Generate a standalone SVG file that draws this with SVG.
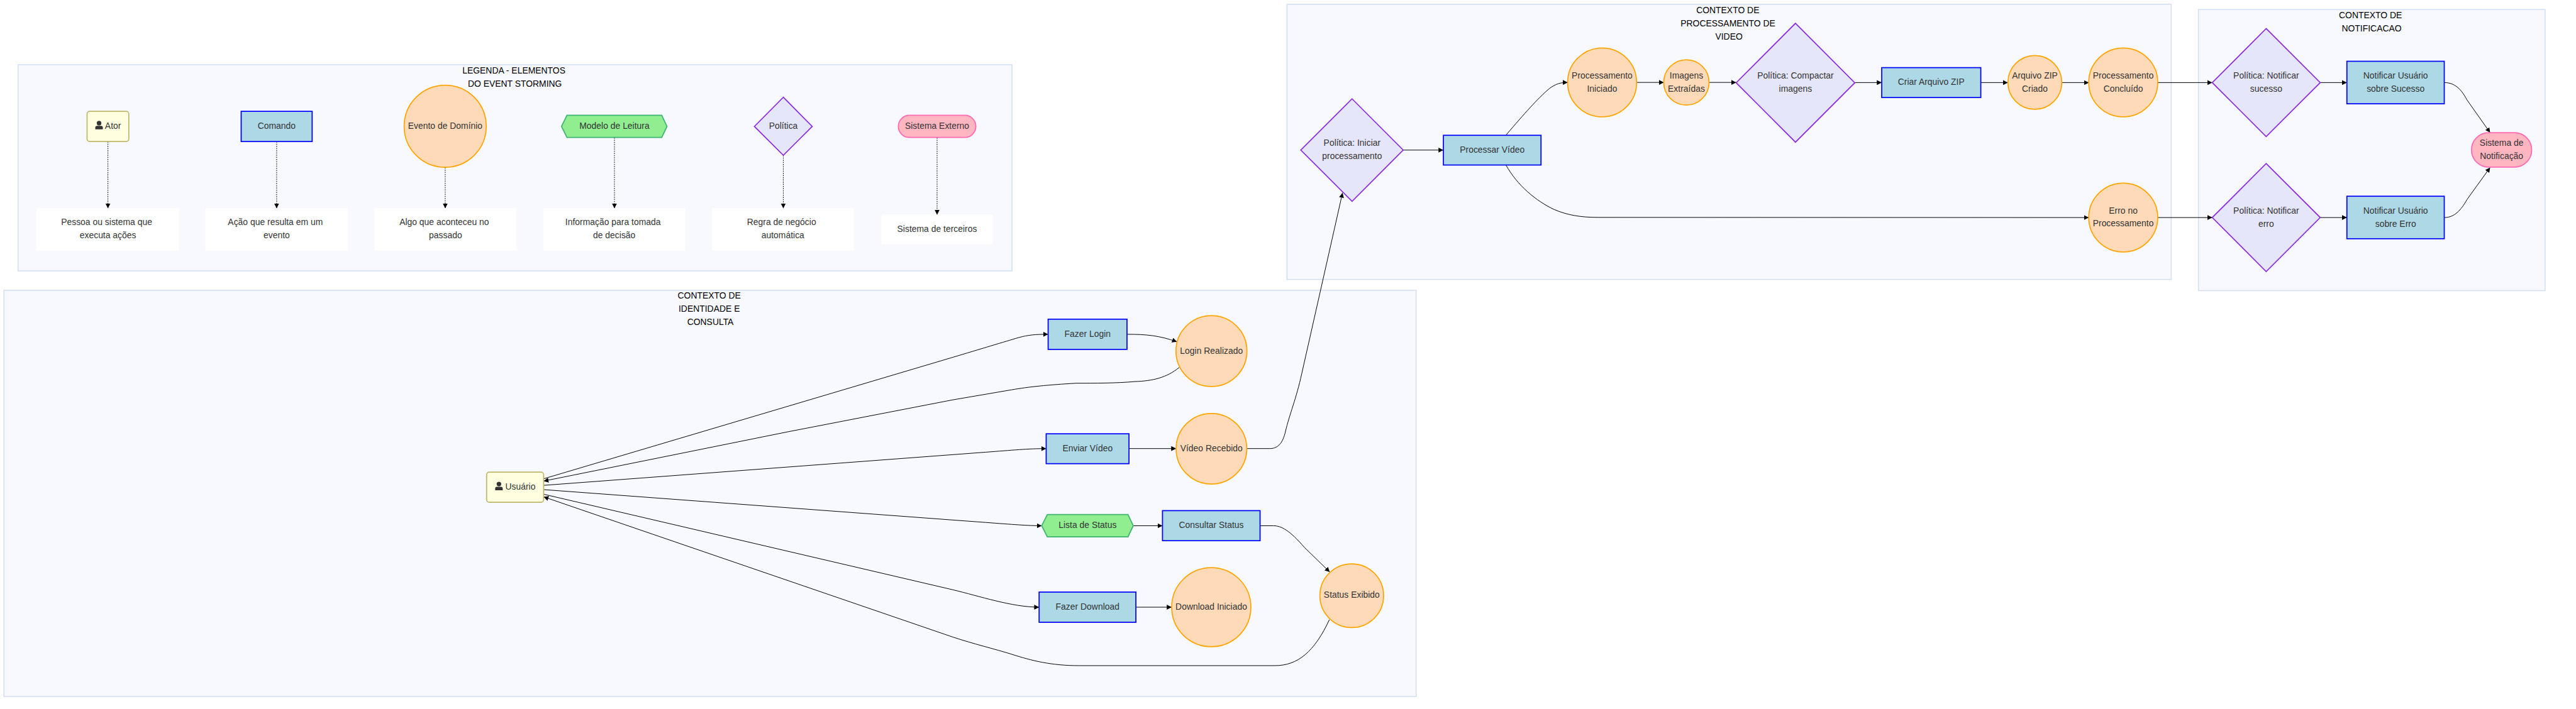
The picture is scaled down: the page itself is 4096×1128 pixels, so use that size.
<svg xmlns="http://www.w3.org/2000/svg" width="4096" height="1128" viewBox="0 0 4096 1128">
<style>
text{font-family:"Liberation Sans",Arial,sans-serif;font-size:26.67px;fill:#333;text-anchor:middle}
.title text,text.title{fill:#000}
.cl{fill:#f8f9ff;stroke:#d3e0f3;stroke-width:3}
.ac{fill:#ffffe0;stroke:#bdb76b;stroke-width:3.33}
.cm{fill:#add8e6;stroke:#00f;stroke-width:3.33}
.ev{fill:#ffdab9;stroke:#ffa500;stroke-width:3.33}
.rm{fill:#90ee90;stroke:#3cb371;stroke-width:3.33}
.po{fill:#e6e6fa;stroke:#8a2be2;stroke-width:3.33}
.ex{fill:#ffb6c1;stroke:#ff69b4;stroke-width:3.33}
.de{fill:#fff;stroke:#fff;stroke-width:1}
.ic{fill:#333}
.e{fill:none;stroke:#000;stroke-width:1.9;marker-end:url(#ah)}
.d{fill:none;stroke:#000;stroke-width:1.9;stroke-dasharray:3.33 3.33;marker-end:url(#ah)}
</style>
<defs>
<marker id="ah" viewBox="0 0 10 10" refX="10" refY="5" markerUnits="userSpaceOnUse" markerWidth="15" markerHeight="15" orient="auto"><path d="M0,0L10,5L0,10z" fill="#000"/></marker>
<path id="usr" class="ic" d="M11.5,0a7,7 0 0 1 0,14a7,7 0 0 1 0,-14zM5,15.5h13a5,5 0 0 1 5,5V26H0v-5.500a5,5 0 0 1 5,-5z"/>
</defs>
<g transform="scale(0.52245)">
<g id="clusters">
<g id="c-legenda"><rect class="cl" x="55" y="197" width="3025" height="628"/><text class="title" x="1564" y="224">LEGENDA - ELEMENTOS</text><text class="title" x="1567" y="265">DO EVENT STORMING</text></g>
<g id="c-identidade"><rect class="cl" x="12" y="884" width="4298" height="1237"/><text class="title" x="2158.500" y="910">CONTEXTO DE</text><text class="title" x="2158.500" y="950">IDENTIDADE E</text><text class="title" x="2162" y="990">CONSULTA</text></g>
<g id="c-processamento"><rect class="cl" x="3917" y="13" width="2691" height="838"/><text class="title" x="5258.500" y="40">CONTEXTO DE</text><text class="title" x="5259" y="80">PROCESSAMENTO DE</text><text class="title" x="5262" y="120">VIDEO</text></g>
<g id="c-notificacao"><rect class="cl" x="6691" y="29" width="1055" height="856"/><text class="title" x="7214.500" y="56">CONTEXTO DE</text><text class="title" x="7218" y="96">NOTIFICACAO</text></g>
</g>
<g id="connectors">
<path class="d" d="M328.500,431V634.500"/>
<path class="d" d="M842,431V634.500"/>
<path class="d" d="M1355,510V634.500"/>
<path class="d" d="M1870,419V634.500"/>
<path class="d" d="M2384,473V634.500"/>
<path class="d" d="M2852,419V654"/>
<path class="e" d="M1654.500,1458L2900,1088C2980,1064 3060,1040 3100,1028C3130,1020 3150,1018 3190,1018"/>
<path class="e" d="M3430,1018C3490,1018 3530,1022 3582,1041"/>
<path class="e" d="M3589,1119C3550,1150 3510,1160 3453,1162C3400,1167 3330,1167 3275,1167C3190,1172 3130,1178 3079,1187L2900,1217.600L2400,1314.500L1654.500,1465"/>
<path class="e" d="M1654.500,1478L3000,1377C3080,1371 3130,1366 3184,1366"/>
<path class="e" d="M3436,1366H3579.500"/>
<path class="e" d="M3794.500,1366L3865,1366C3892,1366 3905,1345 3912,1315C3925,1260 3945,1215 3962,1137L4086,587"/>
<path class="e" d="M1654.500,1491L3000,1591C3080,1597 3130,1601 3170.500,1601"/>
<path class="e" d="M3449,1601H3538"/>
<path class="e" d="M3835,1601L3875,1601C3900,1601 3925,1615 3971,1668L4047,1742"/>
<path class="e" d="M1654.500,1505L2900,1796C2980,1815 3080,1849 3162.500,1849"/>
<path class="e" d="M3457,1849H3566"/>
<path class="e" d="M4046,1887C4000,1985 3950,2027 3880,2027L3284,2027C3200,2027 3140,2012 3078,1992C3030,1977 2960,1960 2900,1940L1654.500,1513"/>
<path class="e" d="M4270.500,457H4393"/>
<path class="e" d="M4583,412C4640,345 4680,300 4715,270C4735,255 4750,251 4771.500,251"/>
<path class="e" d="M4583,502C4618,565 4675,612 4730,638C4770,655 4810,662 4864,662L6357.500,662.500"/>
<path class="e" d="M4981,251H5064"/>
<path class="e" d="M5201,251H5284"/>
<path class="e" d="M5645,251.500H5727"/>
<path class="e" d="M6028.500,251.500H6111"/>
<path class="e" d="M6275,251.500H6357.500"/>
<path class="e" d="M6566,251.500H6733"/>
<path class="e" d="M6566,662.500H6733"/>
<path class="e" d="M7061.500,251.500H7142.700"/>
<path class="e" d="M7061.500,662.500H7142.700"/>
<path class="e" d="M7439,251.500C7470,251.500 7490,270 7508,304L7578.600,404"/>
<path class="e" d="M7439,662.500C7470,662.500 7490,640 7508,608L7578.600,510"/>
</g>
<g id="n-ator"><rect class="ac" x="265" y="339" width="127" height="92" rx="8"/><use href="#usr" x="290" y="368"/><text style="text-anchor:start" x="319.400" y="392">Ator</text></g>
<g id="n-comando"><rect class="cm" x="734" y="339" width="216" height="92"/><text x="842" y="392">Comando</text></g>
<g id="n-evento"><circle class="ev" cx="1355" cy="384.500" r="125"/><text x="1355" y="392">Evento de Domínio</text></g>
<g id="n-modelo"><polygon class="rm" points="1709,385 1725.500,351 2014,351 2030,385 2014,418.600 1725.500,418.600"/><text x="1870" y="392">Modelo de Leitura</text></g>
<g id="n-politica"><polygon class="po" points="2384,296 2472,385 2384,473 2296,385"/><text x="2384" y="392">Política</text></g>
<g id="n-externo"><rect class="ex" x="2734" y="351" width="236" height="67.600" rx="33.800"/><text x="2852" y="392">Sistema Externo</text></g>
<g id="d-ator"><rect class="de" x="112" y="634.500" width="432" height="128.500"/><text x="324.500" y="686">Pessoa ou sistema que</text><text x="328.500" y="725">executa ações</text></g>
<g id="d-comando"><rect class="de" x="625.500" y="634.500" width="432" height="128.500"/><text x="838" y="686">Ação que resulta em um</text><text x="842" y="725">evento</text></g>
<g id="d-evento"><rect class="de" x="1140" y="634.500" width="431" height="128.500"/><text x="1352" y="686">Algo que aconteceu no</text><text x="1356" y="725">passado</text></g>
<g id="d-modelo"><rect class="de" x="1654" y="634.500" width="431" height="128.500"/><text x="1865.500" y="686">Informação para tomada</text><text x="1869.400" y="725">de decisão</text></g>
<g id="d-politica"><rect class="de" x="2168" y="634.500" width="430" height="128.500"/><text x="2378.600" y="686">Regra de negócio</text><text x="2382.600" y="725">automática</text></g>
<g id="d-externo"><rect class="de" x="2682" y="654" width="340" height="89"/><text x="2852" y="706">Sistema de terceiros</text></g>
<g id="n-usuario"><rect class="ac" x="1481" y="1437.700" width="173.500" height="92" rx="8"/><use href="#usr" x="1507" y="1467"/><text style="text-anchor:start" x="1537.800" y="1491">Usuário</text></g>
<g id="n-fazer-login"><rect class="cm" x="3190" y="972" width="240" height="92"/><text x="3310" y="1026">Fazer Login</text></g>
<g id="n-login-realizado"><circle class="ev" cx="3687" cy="1069" r="108"/><text x="3687" y="1077">Login Realizado</text></g>
<g id="n-enviar-video"><rect class="cm" x="3184" y="1321" width="252" height="91"/><text x="3310" y="1374">Enviar Vídeo</text></g>
<g id="n-video-recebido"><circle class="ev" cx="3687" cy="1366.500" r="107.500"/><text x="3687" y="1374">Vídeo Recebido</text></g>
<g id="n-lista-status"><polygon class="rm" points="3170.500,1601 3187.500,1567 3433,1567 3449,1601 3433,1634.700 3187.500,1634.700"/><text x="3310" y="1608">Lista de Status</text></g>
<g id="n-consultar-status"><rect class="cm" x="3538" y="1555" width="297" height="91.500"/><text x="3686.500" y="1608">Consultar Status</text></g>
<g id="n-status-exibido"><circle class="ev" cx="4114" cy="1814" r="97"/><text x="4114" y="1821">Status Exibido</text></g>
<g id="n-fazer-download"><rect class="cm" x="3162.500" y="1803" width="294.500" height="92"/><text x="3310" y="1857">Fazer Download</text></g>
<g id="n-download-iniciado"><circle class="ev" cx="3686.500" cy="1849" r="120.500"/><text x="3686.500" y="1857">Download Iniciado</text></g>
<g id="n-pol-iniciar"><polygon class="po" points="4115,301 4270.500,457 4115,613 3959,457"/><text x="4115" y="445">Política: Iniciar</text><text x="4115" y="485">processamento</text></g>
<g id="n-processar-video"><rect class="cm" x="4393" y="412" width="297" height="90.500"/><text x="4541.500" y="465">Processar Vídeo</text></g>
<g id="n-proc-iniciado"><circle class="ev" cx="4876" cy="251" r="105"/><text x="4876" y="239">Processamento</text><text x="4876" y="279">Iniciado</text></g>
<g id="n-imagens"><circle class="ev" cx="5132.500" cy="251" r="69"/><text x="5132.500" y="239">Imagens</text><text x="5132.500" y="279">Extraídas</text></g>
<g id="n-pol-compactar"><polygon class="po" points="5464.500,71 5645,252 5464.500,433 5284,252"/><text x="5464.500" y="240">Política: Compactar</text><text x="5464.500" y="280">imagens</text></g>
<g id="n-criar-zip"><rect class="cm" x="5727" y="206" width="301.500" height="91"/><text x="5877.500" y="259">Criar Arquivo ZIP</text></g>
<g id="n-zip-criado"><circle class="ev" cx="6193" cy="251" r="82"/><text x="6193" y="239">Arquivo ZIP</text><text x="6193" y="279">Criado</text></g>
<g id="n-concluido"><circle class="ev" cx="6462" cy="251" r="105"/><text x="6462" y="239">Processamento</text><text x="6462" y="279">Concluído</text></g>
<g id="n-erro"><circle class="ev" cx="6462" cy="662.500" r="105"/><text x="6462" y="650">Erro no</text><text x="6462" y="690">Processamento</text></g>
<g id="n-pol-sucesso"><polygon class="po" points="6897,87 7061.500,251.500 6897,416 6733,251.500"/><text x="6897" y="240">Política: Notificar</text><text x="6897" y="280">sucesso</text></g>
<g id="n-notif-sucesso"><rect class="cm" x="7142.700" y="186.600" width="296.300" height="129.400"/><text x="7291" y="240">Notificar Usuário</text><text x="7291" y="280">sobre Sucesso</text></g>
<g id="n-pol-erro"><polygon class="po" points="6897,498 7061.500,662.500 6897,827 6733,662.500"/><text x="6897" y="651">Política: Notificar</text><text x="6897" y="691">erro</text></g>
<g id="n-notif-erro"><rect class="cm" x="7142.700" y="597.600" width="296.300" height="129.400"/><text x="7291" y="651">Notificar Usuário</text><text x="7291" y="691">sobre Erro</text></g>
<g id="n-sistema-notif"><rect class="ex" x="7522" y="404" width="183" height="105" rx="52"/><text x="7613.500" y="445">Sistema de</text><text x="7613.500" y="485">Notificação</text></g>
</g>
</svg>
